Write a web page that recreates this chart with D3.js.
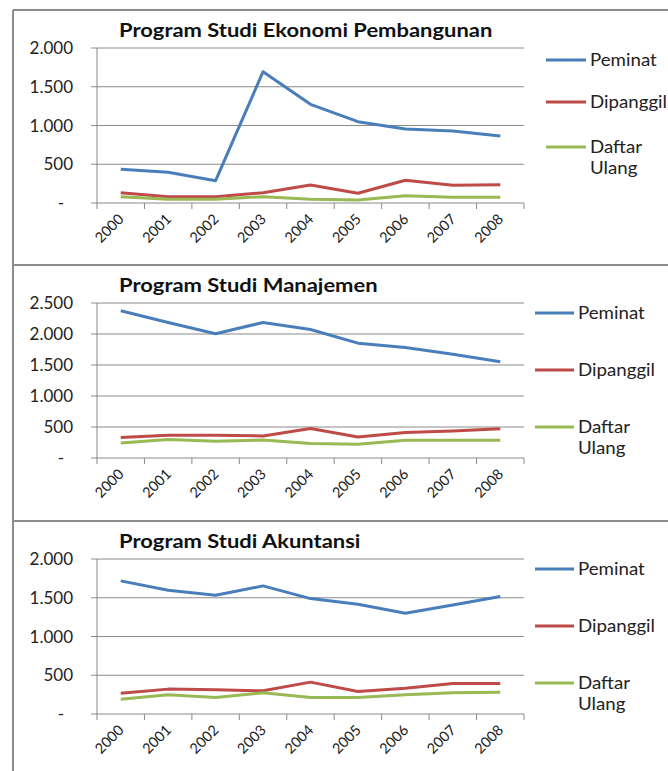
<!DOCTYPE html>
<html>
<head>
<meta charset="utf-8">
<script src="https://cdn.jsdelivr.net/npm/d3@7"></script>
<style>
  body { margin: 0; background: #fff; }
  svg { display: block; }
  text { font-family: Lato, "Open Sans", sans-serif; fill: #222; }
</style>
</head>
<body>
<svg id="chart"></svg>
<script>
var years = ["2000","2001","2002","2003","2004","2005","2006","2007","2008"];
var seriesNames = ["Peminat", "Dipanggil", "Daftar Ulang"];
var titles = ["Program Studi Ekonomi Pembangunan", "Program Studi Manajemen", "Program Studi Akuntansi"];
var yMax = [2000, 2500, 2000];

var ekonomiPeminat   = [435, 396, 288, 1694, 1273, 1049, 955, 929, 865];
var ekonomiDipanggil = [133, 81, 81, 133, 232, 125, 293, 228, 236];
var ekonomiDaftar    = [81, 48, 48, 81, 48, 39, 94, 73, 73];

var manajemenPeminat   = [2375, 2186, 2003, 2186, 2073, 1852, 1781, 1674, 1554];
var manajemenDipanggil = [330, 367, 367, 356, 476, 340, 411, 437, 470];
var manajemenDaftar    = [243, 298, 270, 289, 233, 222, 287, 287, 287];

var akuntansiPeminat   = [1718, 1597, 1532, 1653, 1489, 1416, 1299, 1407, 1515];
var akuntansiDipanggil = [268, 321, 312, 299, 411, 290, 333, 394, 394];
var akuntansiDaftar    = [191, 247, 212, 273, 212, 212, 247, 273, 282];

var colors = ["#4A7EBB", "#BE4B48", "#98B954"];

var width = 668, height = 771;
var svg = d3.select("#chart").attr("width", width).attr("height", height);

var panelTop = [10, 265, 521];
var legendX = [[546, 586], [535, 574], [535, 574]];
var legendY = [[50, 92, 137], [48, 105, 162], [48, 105, 162]];
var panelData = [
	[ekonomiPeminat, ekonomiDipanggil, ekonomiDaftar],
	[manajemenPeminat, manajemenDipanggil, manajemenDaftar],
	[akuntansiPeminat, akuntansiDipanggil, akuntansiDaftar]
];

var x = d3.scaleBand().domain(years).range([97, 524]);

function fmt(v) {
	if (v === 0) return "-";
	return d3.format(",")(v).replace(/,/g, ".");
}

panelData.forEach(function(series, p) {
	var g = svg.append("g").attr("transform", "translate(0," + panelTop[p] + ")");
	var y = d3.scaleLinear().domain([0, yMax[p]]).range([193, 38]);
	var ticks = d3.range(0, yMax[p] + 1, 500);

	// gridlines + y ticks
	g.selectAll(".grid").data(ticks).enter().append("line")
		.attr("x1", 91).attr("x2", 524)
		.attr("y1", function(d) { return y(d); })
		.attr("y2", function(d) { return y(d); })
		.style("stroke", "#8a8a8a").style("stroke-width", 1);

	g.append("line")
		.attr("x1", 97).attr("x2", 97).attr("y1", y(yMax[p])).attr("y2", y(0))
		.style("stroke", "#8a8a8a").style("stroke-width", 1);

	// x ticks at band edges
	var edges = years.map(function(d) { return x(d); }).concat([x.range()[1]]);
	g.selectAll(".xt").data(edges).enter().append("line")
		.attr("x1", function(d) { return d; }).attr("x2", function(d) { return d; })
		.attr("y1", y(0)).attr("y2", y(0) + 6)
		.style("stroke", "#8a8a8a").style("stroke-width", 1);

	g.selectAll(".yl").data(ticks).enter().append("text")
		.attr("x", function(d) { return d === 0 ? 64 : 73; })
		.attr("y", function(d) { return y(d) + 6; })
		.attr("text-anchor", "end")
		.style("font-size", "17px")
		.text(fmt);

	g.selectAll(".xl").data(years).enter().append("text")
		.attr("transform", function(d) {
			return "translate(" + (x(d) + x.bandwidth() / 2 + 4) + "," + (y(0) + 17) + ") rotate(-45)";
		})
		.attr("text-anchor", "end")
		.style("font-size", "14.5px")
		.text(function(d) { return d; });

	g.append("text")
		.attr("transform", "translate(119,27) scale(1.22,1)")
		.style("font-size", "18px").style("font-weight", "bold")
		.style("fill", "#111")
		.text(titles[p]);

	var line = d3.line()
		.x(function(d, i) { return x(years[i]) + x.bandwidth() / 2; })
		.y(function(d) { return y(d); });

	series.forEach(function(vals, s) {
		g.append("path")
			.attr("d", line(vals))
			.style("fill", "none")
			.style("stroke", colors[s])
			.style("stroke-width", 3)
			.style("stroke-linejoin", "round");

		var ly = legendY[p][s];
		g.append("line")
			.attr("x1", legendX[p][0]).attr("x2", legendX[p][1])
			.attr("y1", ly).attr("y2", ly)
			.style("stroke", colors[s]).style("stroke-width", 3);

		var words = seriesNames[s].split(" ");
		var t = g.append("text")
			.attr("transform", "translate(" + (legendX[p][1] + 4) + "," + (ly + 6) + ") scale(1.1,1)")
			.style("font-size", "17px");
		words.forEach(function(w, i) {
			t.append("tspan").attr("x", 0).attr("dy", i === 0 ? 0 : 21).text(w);
		});
	});
});

// panel borders
svg.append("line").attr("x1", 13).attr("x2", 13).attr("y1", 10).attr("y2", height)
	.style("stroke", "#8c8c8c").style("stroke-width", 2);
svg.selectAll(".hb").data(panelTop).enter().append("line")
	.attr("x1", 13).attr("x2", width)
	.attr("y1", function(d) { return d; }).attr("y2", function(d) { return d; })
	.style("stroke", "#8c8c8c").style("stroke-width", 2);
</script>
</body>
</html>
